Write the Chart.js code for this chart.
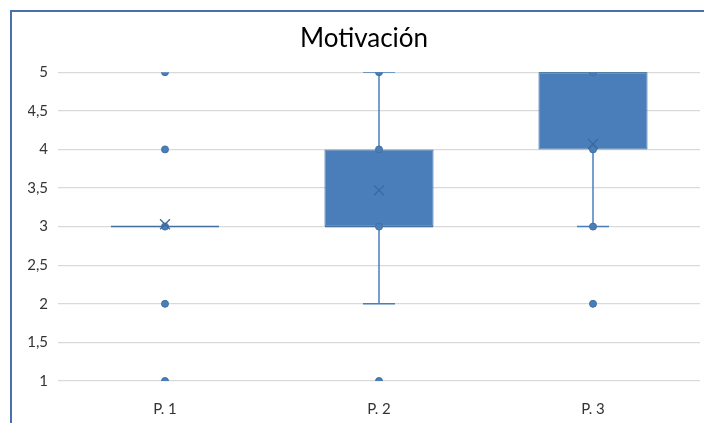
<!DOCTYPE html>
<html>
<head>
<meta charset="utf-8">
<script src="https://cdn.jsdelivr.net/npm/chart.js@4"></script>
<style>
  html, body { margin: 0; padding: 0; background: #fff; overflow: hidden; }
  .frame { position: absolute; left: 10px; top: 10px; width: 694px; height: 413px;
           border-top: 2px solid #4a6fae; border-left: 2px solid #4a6fae; box-sizing: border-box; }
  .wrap { position: absolute; left: 0; top: 0; width: 704px; height: 423px; }
  canvas { display: block; }
</style>
</head>
<body>
<div class="frame"></div>
<div class="wrap"><canvas id="c" width="704" height="423"></canvas></div>
<script>
const categories  = ['P. 1', 'P. 2', 'P. 3'];
const q1          = [3, 3, 4];
const q3          = [3, 4, 5];
const median      = [3, 3, 5];
const whiskerLow  = [3, 2, 3];
const whiskerHigh = [3, 5, 5];
const means       = [3.03, 3.47, 4.07];
const points      = [[1, 2, 3, 4, 5], [1, 3, 4, 5], [2, 3, 4, 5]];
const yTicks      = [1, 1.5, 2, 2.5, 3, 3.5, 4, 4.5, 5];

const BLUE = '#4a7ebb';
const EDGE = '#41719c';
const FONT = 'Lato';

// whisker stems: one small line per side of each box
const stems = [];
categories.forEach((c, i) => {
  if (whiskerLow[i] < q1[i]) stems.push([{ x: c, y: whiskerLow[i] }, { x: c, y: q1[i] }]);
  if (whiskerHigh[i] > q3[i]) stems.push([{ x: c, y: q3[i] }, { x: c, y: whiskerHigh[i] }]);
});

const datasets = [
  {
    type: 'bar', label: 'box', order: 10,
    data: categories.map((c, i) => [q1[i], q3[i]]),
    backgroundColor: BLUE, borderColor: EDGE, borderWidth: 1, borderSkipped: false,
    categoryPercentage: 1, barPercentage: 0.51
  },
  ...stems.map(d => ({
    type: 'line', label: 'stem', order: 5, data: d,
    borderColor: BLUE, borderWidth: 1.5, pointRadius: 0, fill: false
  })),
  {
    type: 'line', label: 'caps', order: 4, showLine: false,
    data: categories.flatMap((c, i) => {
      const out = [];
      if (whiskerLow[i] < q1[i]) out.push({ x: c, y: whiskerLow[i] });
      if (whiskerHigh[i] > q3[i]) out.push({ x: c, y: whiskerHigh[i] });
      return out;
    }),
    pointStyle: 'line', pointRadius: 16, borderColor: BLUE, borderWidth: 1.5
  },
  {
    type: 'line', label: 'median', order: 3, showLine: false,
    data: categories.map((c, i) => ({ x: c, y: median[i] })),
    pointStyle: 'line', pointRadius: 54, borderColor: EDGE, borderWidth: 1.5
  },
  {
    type: 'line', label: 'points', order: 1, showLine: false,
    data: categories.flatMap((c, i) => points[i].map(v => ({ x: c, y: v }))),
    pointStyle: 'circle', pointRadius: 3.5, backgroundColor: BLUE, borderColor: EDGE, borderWidth: 1
  },
  {
    type: 'line', label: 'mean', order: 0, showLine: false,
    data: categories.map((c, i) => ({ x: c, y: means[i] })),
    pointStyle: 'crossRot', pointRadius: 7, borderColor: '#3c68a0', borderWidth: 1.3
  }
];

new Chart(document.getElementById('c'), {
  type: 'bar',
  data: { labels: categories, datasets },
  options: {
    responsive: false, animation: false,
    layout: { autoPadding: false, padding: { left: 28, right: 4, top: 0, bottom: 0 } },
    plugins: {
      legend: { display: false }, tooltip: { enabled: false },
      title: {
        display: true, text: 'Motivación', color: '#000',
        font: { family: FONT, size: 26, weight: 'normal' },
        padding: { top: 23, bottom: 18 }
      }
    },
    scales: {
      x: {
        type: 'category', offset: true,
        grid: { display: false }, border: { display: false },
        ticks: { color: '#333', font: { family: FONT, size: 15 }, padding: 11 },
        afterFit: s => { s.height = 42; }
      },
      y: {
        min: 1, max: 5,
        afterBuildTicks: s => { s.ticks = yTicks.map(v => ({ value: v })); },
        grid: { color: '#d9d9d9', lineWidth: 1.3, drawTicks: false },
        border: { display: false },
        ticks: { color: '#333', font: { family: FONT, size: 15 }, padding: 10,
                 callback: v => String(v).replace('.', ',') },
        afterFit: s => { s.width = 30; }
      }
    }
  }
});
</script>
</body>
</html>
